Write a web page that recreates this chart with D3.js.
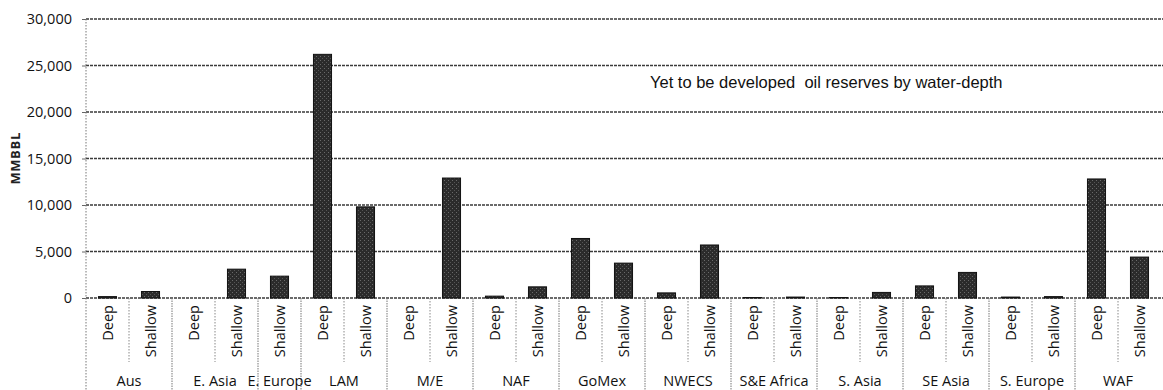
<!DOCTYPE html>
<html>
<head>
<meta charset="utf-8">
<script src="https://cdn.jsdelivr.net/npm/d3@7"></script>
<style>
  html, body { margin: 0; padding: 0; background: #fff; }
  svg { display: block; }
</style>
</head>
<body>
<svg id="chart" width="1163" height="390"></svg>
<script>
// Yet-to-be-developed oil reserves (MMBBL) by region and water depth
const regions = ["Aus", "E. Asia", "E. Europe", "LAM", "M/E", "NAF", "GoMex", "NWECS",
                 "S&E Africa", "S. Asia", "SE Asia", "S. Europe", "WAF"];
// null = no entry for that depth class
const deepValues    = [150, 0, null, 26200, 0, 200, 6400, 550, 50, 50, 1300, 100, 12800];
const shallowValues = [700, 3100, 2350, 9800, 12900, 1200, 3750, 5700, 100, 600, 2750, 150, 4400];
const depthLabels = ["Deep", "Shallow"];
const yTicks = [0, 5000, 10000, 15000, 20000, 25000, 30000];
const yLabel = "MMBBL";
const title = "Yet to be developed\u00a0 oil reserves by water-depth";

(function draw() {
  // one slot per (region, depth) pair that has data
  const slots = [];
  regions.forEach((r, i) => {
    [deepValues[i], shallowValues[i]].forEach((v, j) => {
      if (v !== null) slots.push({ region: r, ri: i, depth: depthLabels[j], value: v, id: slots.length });
    });
  });

  const svg = d3.select("#chart");
  const plotLeft = 86, plotRight = 1161, plotTop = 19, plotBottom = 298, H = 390;

  const x = d3.scaleBand()
    .domain(slots.map(d => d.id))
    .range([plotLeft, plotRight])
    .paddingInner(0.58)
    .paddingOuter(0.29);
  const step = x.step();

  const y = d3.scaleLinear().domain([0, 30000]).range([plotBottom, plotTop]);

  const font = "'Open Sans', 'Noto Sans', sans-serif";

  // horizontal gridlines
  svg.append("g").selectAll("line").data(yTicks).join("line")
    .attr("x1", plotLeft).attr("x2", 1163)
    .attr("y1", d => y(d)).attr("y2", d => y(d))
    .attr("stroke", "#3a3a3a").attr("stroke-width", 1.4)
    .attr("stroke-dasharray", "3,1");

  // y axis
  const yAxis = d3.axisLeft(y).tickValues(yTicks).tickSize(4).tickPadding(10)
    .tickFormat(d3.format(","));
  const gy = svg.append("g").attr("transform", `translate(${plotLeft},0)`).call(yAxis);
  gy.select(".domain").remove();
  gy.selectAll(".tick line").attr("stroke", "#666");
  gy.selectAll(".tick text")
    .attr("font-family", font).attr("font-size", 14.5).attr("fill", "#111");

  // left border running to the bottom of the category area
  svg.append("line")
    .attr("x1", plotLeft).attr("x2", plotLeft).attr("y1", plotTop).attr("y2", H)
    .attr("stroke", "#777").attr("stroke-width", 1).attr("stroke-dasharray", "1.5,1.5");

  svg.append("text")
    .attr("transform", `translate(20,158) rotate(-90)`)
    .attr("text-anchor", "middle")
    .attr("font-family", font).attr("font-weight", "bold")
    .attr("font-size", 12.5).attr("letter-spacing", 1)
    .attr("fill", "#222")
    .text(yLabel);

  // bar texture
  const defs = svg.append("defs");
  const pat = defs.append("pattern").attr("id", "grain")
    .attr("patternUnits", "userSpaceOnUse").attr("width", 4).attr("height", 4);
  pat.append("rect").attr("width", 4).attr("height", 4).attr("fill", "#2b2b2b");
  pat.append("rect").attr("x", 0).attr("y", 0).attr("width", 1).attr("height", 1).attr("fill", "#6a6a6a");
  pat.append("rect").attr("x", 2).attr("y", 2).attr("width", 1).attr("height", 1).attr("fill", "#555");

  // bars
  svg.append("g").selectAll("rect").data(slots).join("rect")
    .attr("x", d => x(d.id))
    .attr("y", d => y(d.value))
    .attr("width", x.bandwidth())
    .attr("height", d => y(0) - y(d.value))
    .attr("fill", "url(#grain)")
    .attr("stroke", "#111").attr("stroke-width", 1);

  // separators in the category area
  const sepG = svg.append("g");
  slots.forEach((d, i) => {
    if (i === 0) return;
    const xb = x(d.id) - (step - x.bandwidth()) / 2;
    const newRegion = d.ri !== slots[i - 1].ri;
    sepG.append("line")
      .attr("x1", xb).attr("x2", xb)
      .attr("y1", plotBottom).attr("y2", newRegion ? H : 362)
      .attr("stroke", newRegion ? "#777" : "#888")
      .attr("stroke-width", 1)
      .attr("stroke-dasharray", newRegion ? "1.5,1" : "1.5,1.5");
  });

  // depth labels
  svg.append("g").selectAll("text").data(slots).join("text")
    .attr("transform", d => `translate(${x(d.id) + x.bandwidth() / 2 + 5},305) rotate(-90)`)
    .attr("text-anchor", "end")
    .attr("font-family", font).attr("font-size", 14.5).attr("fill", "#111")
    .text(d => d.depth);

  // region labels centred under their slots
  const regionSpans = regions.map((r, i) => {
    const s = slots.filter(d => d.ri === i);
    const x0 = x(s[0].id), x1 = x(s[s.length - 1].id) + x.bandwidth();
    return { name: r, cx: (x0 + x1) / 2 };
  });
  svg.append("g").selectAll("text").data(regionSpans).join("text")
    .attr("x", d => d.cx).attr("y", 386)
    .attr("text-anchor", "middle")
    .attr("font-family", font).attr("font-size", 14.5).attr("fill", "#111")
    .text(d => d.name);

  // title inside the plot
  svg.append("text")
    .attr("x", 650).attr("y", 88)
    .attr("font-family", "'Liberation Sans', Arial, sans-serif")
    .attr("font-size", 16.5).attr("fill", "#111")
    .text(title);
})();
</script>
</body>
</html>
